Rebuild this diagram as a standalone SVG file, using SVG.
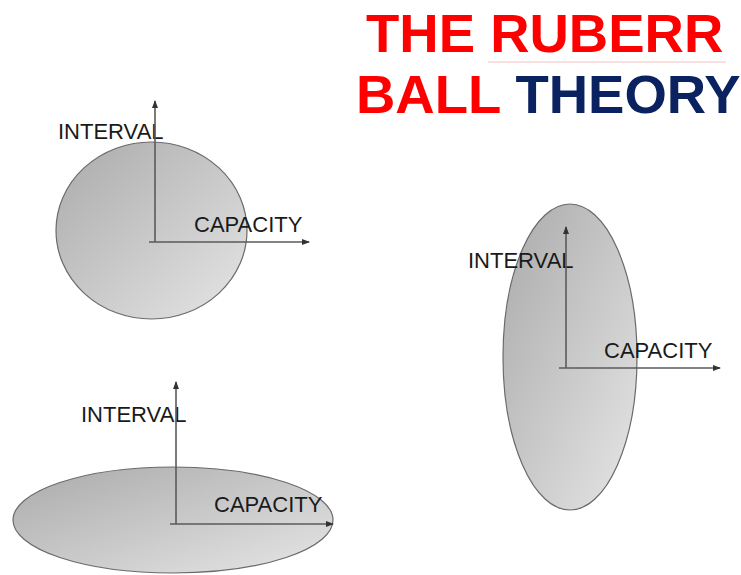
<svg xmlns="http://www.w3.org/2000/svg" width="741" height="575" viewBox="0 0 741 575">
<style>
.ball{stroke:#6a6a6a;stroke-width:1.2;fill:url(#g)}
.axis{stroke:#5a5a5a;stroke-width:1.6;fill:none;marker-end:url(#ah)}
.lbl{font-family:"Liberation Sans",Arial,sans-serif;font-size:22px;fill:#1a1a1a}
.title{font-family:"Liberation Sans",Arial,sans-serif;font-weight:bold;font-size:54.5px}
</style>
<defs>
<linearGradient id="g" x1="0" y1="0" x2="1" y2="1">
<stop offset="0" stop-color="#aaaaaa"/>
<stop offset="1" stop-color="#e6e6e6"/>
</linearGradient>
<marker id="ah" markerWidth="8" markerHeight="6" refX="7" refY="3" orient="auto" markerUnits="userSpaceOnUse">
<path d="M0,0 L8,3 L0,6 Z" fill="#333"/>
</marker>
</defs>
<rect width="741" height="575" fill="#fff"/>
<g id="title">
<text class="title" x="366" y="52" fill="#ff0000">THE RUBERR</text>
<line x1="488" y1="62" x2="726" y2="62" stroke="#f4c0c0" stroke-width="1"/>
<text class="title" x="356" y="113"><tspan fill="#ff0000">BALL</tspan><tspan fill="#0a2260"> THEORY</tspan></text>
</g>
<g id="ball1">
<ellipse class="ball" cx="151.5" cy="230.5" rx="95.5" ry="88.5"/>
<text class="lbl" x="58" y="139">INTERVAL</text>
<text class="lbl" x="194" y="232">CAPACITY</text>
</g>
<g id="ball2">
<ellipse class="ball" cx="570" cy="357" rx="67" ry="153"/>
<text class="lbl" x="468" y="268">INTERVAL</text>
<text class="lbl" x="604" y="358">CAPACITY</text>
</g>
<g id="ball3">
<ellipse class="ball" cx="173" cy="520" rx="160" ry="53"/>
<text class="lbl" x="81" y="422">INTERVAL</text>
<text class="lbl" x="214" y="512">CAPACITY</text>
</g>
<g id="connectors">
<path class="axis" d="M155,242 V101"/>
<path class="axis" d="M149,242 H309"/>
<path class="axis" d="M566,368 V227"/>
<path class="axis" d="M559,368 H720"/>
<path class="axis" d="M176,524 V382"/>
<path class="axis" d="M170,524 H333"/>
</g>
</svg>
